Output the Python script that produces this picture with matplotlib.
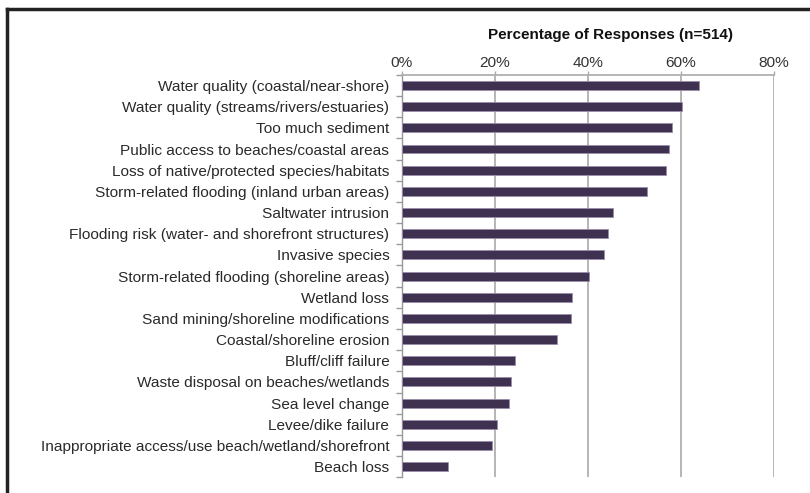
import matplotlib.pyplot as plt
import numpy as np
from matplotlib.lines import Line2D

categories = [
    "Water quality (coastal/near-shore)",
    "Water quality (streams/rivers/estuaries)",
    "Too much sediment",
    "Public access to beaches/coastal areas",
    "Loss of native/protected species/habitats",
    "Storm-related flooding (inland urban areas)",
    "Saltwater intrusion",
    "Flooding risk (water- and shorefront structures)",
    "Invasive species",
    "Storm-related flooding (shoreline areas)",
    "Wetland loss",
    "Sand mining/shoreline modifications",
    "Coastal/shoreline erosion",
    "Bluff/cliff failure",
    "Waste disposal on beaches/wetlands",
    "Sea level change",
    "Levee/dike failure",
    "Inappropriate access/use beach/wetland/shorefront",
    "Beach loss",
]
percent = [64.0, 60.3, 58.2, 57.4, 56.8, 52.8, 45.5, 44.4, 43.5, 40.3,
           36.6, 36.4, 33.4, 24.4, 23.4, 23.1, 20.6, 19.5, 10.0]
xticks = [0, 20, 40, 60, 80]

plt.rcParams['font.family'] = ['Liberation Sans', 'DejaVu Sans']

fig = plt.figure(figsize=(8.1, 4.93), dpi=100)
ax = fig.add_axes([0.496, 0.032, 0.459, 0.816])

y = np.arange(len(categories))
ax.barh(y, percent, height=0.42, color='#3f3150', edgecolor='#9a8daa', linewidth=0.6, zorder=3)
ax.set_ylim(len(categories) - 0.5, -0.5)
ax.set_xlim(0, 80)

ax.set_yticks(y)
ax.set_yticklabels(categories, fontsize=11.1, color='#2a2a2a')
ax.set_yticks(np.arange(len(categories) + 1) - 0.5, minor=True)
ax.tick_params(axis='y', which='major', length=0, pad=9)
ax.tick_params(axis='y', which='minor', length=4, color='#999999', width=1)

ax.xaxis.tick_top()
ax.set_xticks(xticks)
ax.set_xticklabels([f"{t}%" for t in xticks], fontsize=11.1, color='#333333')
ax.tick_params(axis='x', length=3, color='#aaaaaa', width=1, pad=0.5)
ax.grid(axis='x', color='#b0b0b0', linewidth=1.3, zorder=0)

for s in ['right', 'bottom']:
    ax.spines[s].set_visible(False)
ax.spines['top'].set_color('#b0b0b0')
ax.spines['top'].set_linewidth(1.3)
ax.spines['left'].set_color('#999999')
ax.spines['left'].set_linewidth(1)

fig.text(611 / 810, 1 - 35 / 493, "Percentage of Responses (n=514)", ha='center', va='center',
         fontsize=11, fontweight='bold', color='#111111')

# frame lines on top and left of the picture
fig.add_artist(Line2D([7 / 810, 1], [1 - 9 / 493, 1 - 9 / 493], color='#222222', linewidth=2.5,
                      transform=fig.transFigure))
fig.add_artist(Line2D([7 / 810, 7 / 810], [0, 1 - 9 / 493], color='#222222', linewidth=2.5,
                      transform=fig.transFigure))

fig.savefig('out.png', dpi=100)
